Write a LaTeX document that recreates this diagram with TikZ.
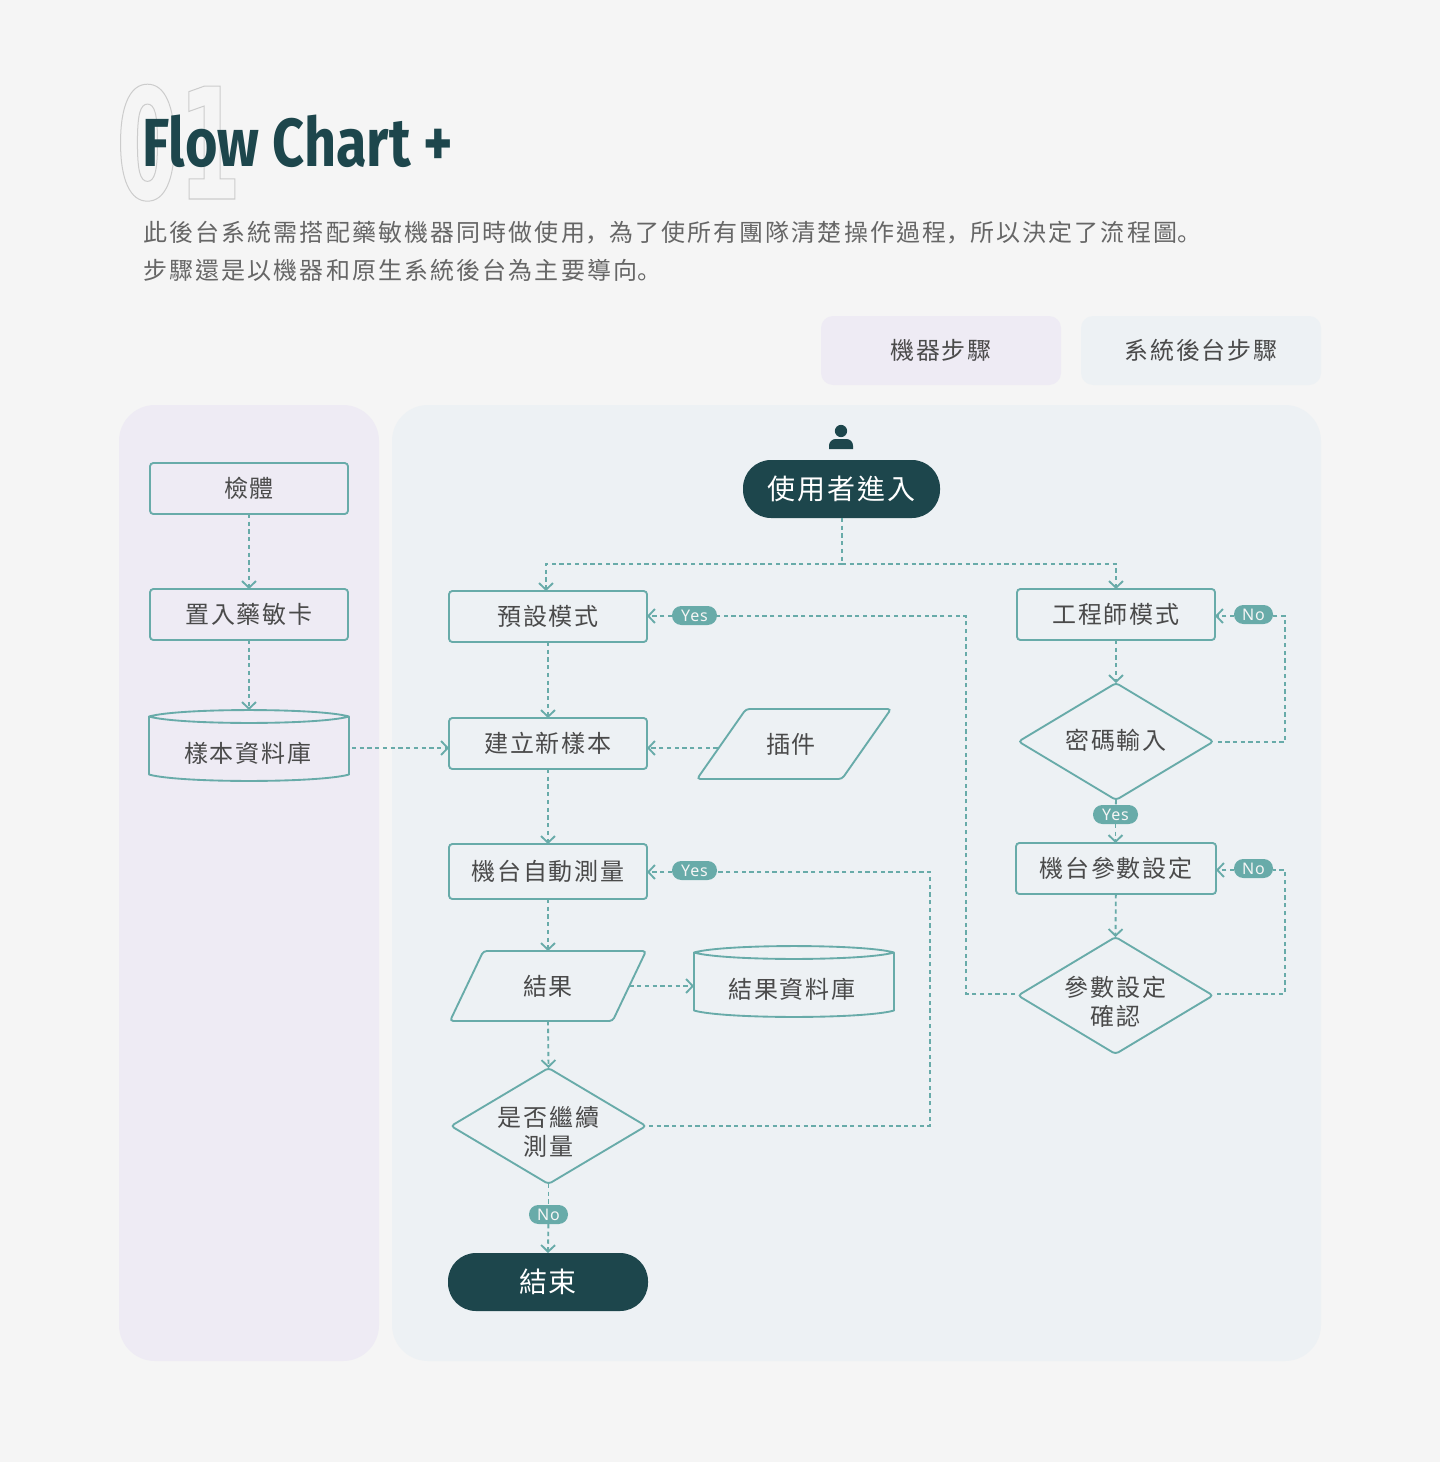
\documentclass[tikz,border=0pt]{standalone}
\usepackage{fontspec}
\usetikzlibrary{arrows.meta,shapes.geometric,calc}
\setmainfont{Noto Sans CJK TC}
\newfontfamily\lblfont[LetterSpace=7]{Noto Sans CJK TC}
\newfontfamily\descfont[LetterSpace=8.8]{Noto Sans CJK TC}
\newfontfamily\punctfont[LetterSpace=8.8]{Noto Sans CJK SC}
\newfontfamily\bigfont[LetterSpace=7]{Noto Sans CJK TC}
\newfontfamily\pillfont[LetterSpace=5]{Noto Sans}
\newfontfamily\titlefont[FakeStretch=0.82]{Fira Sans}[BoldFont=* Bold]
\newfontfamily\numfont[FakeStretch=0.58]{DejaVu Sans Bold}
\definecolor{pagebg}{HTML}{F5F5F5}
\definecolor{purplebg}{HTML}{EEEBF4}
\definecolor{bluebg}{HTML}{EDF1F4}
\definecolor{tealc}{HTML}{68ABA9}
\definecolor{darkc}{HTML}{1D464C}
\definecolor{textc}{HTML}{4A4A4A}
\definecolor{descc}{HTML}{666666}
\tikzset{
  dims/.style 2 args={minimum width=#1*0.75pt,minimum height=#2*0.75pt},
  base/.style={inner sep=0pt,outer sep=0pt,text=textc,font=\fontsize{18}{21.75}\lblfont,align=center},
  stepbox/.style={base,rectangle,draw=tealc,line width=1.4pt,rounded corners=2.5pt},
  decide/.style={base,diamond,aspect=1.67,draw=tealc,line width=1.4pt,rounded corners=2.5pt},
  slant/.style={base,trapezium,trapezium stretches body,draw=tealc,line width=1.4pt,rounded corners=2.5pt},
  dbbox/.style={base},
  dbline/.style={draw=tealc,line width=1.4pt,line join=round},
  terminal/.style={inner sep=0pt,outer sep=0pt,rounded corners=21pt,fill=darkc,text=white,font=\fontsize{21}{25}\bigfont},
  pill/.style={inner sep=0pt,outer sep=0pt,rounded corners=7pt,fill=tealc,text=pagebg,font=\fontsize{12}{14}\pillfont},
  flow/.style={draw=tealc,line width=1.4pt,dash pattern=on 3.2pt off 2.6pt,-{Straight Barb[length=5pt,width=10.5pt,line width=1.4pt]}},
  flowline/.style={draw=tealc,line width=1.4pt,dash pattern=on 3.2pt off 2.6pt},
  legend/.style={base,rounded corners=9pt},
  panel/.style={rounded corners=27pt},
}
\newcommand{\cyl}[1]{%
  \draw[dbline] (#1.north west) ++(0,6.5) .. controls +(30,-8.6) and +(-30,-8.6) .. ++(200,0)
     .. controls +(-30,8.6) and +(30,8.6) .. ++(-200,0) -- ++(0,58)
     .. controls +(30,8.6) and +(-30,8.6) .. ++(200,0) -- ++(0,-58);}
\newcommand{\slantbody}{\rule{0pt}{52.5pt}}
\begin{document}
\begin{tikzpicture}[x=0.75pt,y=-0.75pt]
\fill[pagebg,use as bounding box] (0,0) rectangle (1440,1462);
% panels
\node[panel,fill=purplebg,dims={260}{956},inner sep=0pt,outer sep=0pt] (lane1) at (249,883) {};
\node[panel,fill=bluebg,dims={929}{956},inner sep=0pt,outer sep=0pt] (lane2) at (856.5,883) {};
% legend
\node[legend,fill=purplebg,dims={240}{69}] (leg1) at (941,350.5) {機器步驟};
\node[legend,fill=bluebg,dims={240}{69}] (leg2) at (1201,350.5) {系統後台步驟};
% title
\node[anchor=base west,inner sep=0pt,text=black] (num) at (116,199) {\fontsize{116}{125}\numfont\special{pdf:code 1 Tr 0.75 w 0.8 0.8 0.8 RG}01\special{pdf:code 0 Tr}};
\node[anchor=base west,inner sep=0pt,text=darkc] (title) at (142,167) {\fontsize{51}{60}\titlefont\bfseries Flow Chart +};
\node[anchor=west,inner sep=0pt,text=descc] (desc1) at (143,233) {\fontsize{18}{22}\descfont 此後台系統需搭配藥敏機器同時做使用{\punctfont ，}為了使所有團隊清楚操作過程{\punctfont ，}所以決定了流程圖{\punctfont 。}};
\node[anchor=west,inner sep=0pt,text=descc] (desc2) at (143,270) {\fontsize{18}{22}\descfont 步驟還是以機器和原生系統後台為主要導向{\punctfont 。}};
% person icon
\fill[darkc] (841,431) circle (4.6pt);
\fill[darkc] (829,449) [rounded corners=5pt] -- (829,439) -- (853,439) [sharp corners] -- (853,449) -- cycle;
% left lane
\node[stepbox,dims={198}{51}] (body) at (249,488.5) {檢體};
\node[stepbox,dims={198}{51}] (card) at (249,614.5) {置入藥敏卡};
\node[dbbox,dims={200}{72},label={[base,yshift=-5.25pt,xshift=-1pt]center:樣本資料庫}] (sampledb) at (249,746) {};
\cyl{sampledb}
% main lane
\node[terminal,dims={197}{58}] (user) at (841.5,489) {使用者進入};
\node[stepbox,dims={198}{51}] (preset) at (548,616.5) {預設模式};
\node[stepbox,dims={198}{51}] (newsample) at (548,743.5) {建立新樣本};
\node[slant,trapezium left angle=55,trapezium right angle=125,dims={194}{70},label={[base,xshift=-2.25pt]center:插件}] (plugin) at (794,744) {\slantbody};
\node[stepbox,dims={198}{55}] (measure) at (548,871.5) {機台自動測量};
\node[slant,trapezium left angle=64.5,trapezium right angle=115.5,dims={196}{70},label={[base]center:結果}] (result) at (548,986) {\slantbody};
\node[dbbox,dims={200}{72},label={[base,yshift=-5.25pt,xshift=-1.5pt]center:結果資料庫}] (resultdb) at (794,982) {};
\cyl{resultdb}
\node[decide,dims={195}{116},label={[base,yshift=-4.4pt]center:{是否繼續\\測量}}] (cont) at (548.5,1126) {};
\node[terminal,dims={200}{58}] (finish) at (548,1282) {結束};
\node[stepbox,dims={198}{51}] (eng) at (1116,614.5) {工程師模式};
\node[decide,dims={195}{117},label={[base,yshift=0.6pt]center:密碼輸入}] (pw) at (1116,741.5) {};
\node[stepbox,dims={200}{51}] (param) at (1116,868.5) {機台參數設定};
\node[decide,dims={195}{117},label={[base,yshift=-4.4pt]center:{參數設定\\確認}}] (confirm) at (1115.5,995.5) {};
% pills
\node[pill,dims={45}{19}] (y1) at (694.5,615.5) {Yes};
\node[pill,dims={45}{19}] (y2) at (694.5,870.5) {Yes};
\node[pill,dims={45}{19}] (y3) at (1115.5,814.5) {Yes};
\node[pill,dims={39}{19}] (n1) at (1253.5,614.5) {No};
\node[pill,dims={39}{19}] (n2) at (1253.5,868.5) {No};
\node[pill,dims={39}{19}] (n3) at (548.5,1214.5) {No};
% waypoints
\coordinate (fork) at (842,564);
\coordinate (c1) at (966,616);
\coordinate (c1b) at (966,994);
\coordinate (c2) at (930,872);
\coordinate (c2b) at (930,1126);
\coordinate (c3) at (1285,616);
\coordinate (c3b) at (1285,742);
\coordinate (c4) at (1285,870);
\coordinate (c4b) at (1285,994);
% connectors
\draw[flow] (body) -- (card);
\draw[flow] (card) -- (sampledb.north);
\draw[flow] ($(sampledb.east)+(3,2)$) -- (newsample.west |- 0,748);
\draw[flowline] (user.south -| fork) -- (fork);
\draw[flow] (fork) -| ($(preset.north)+(-2,0)$);
\draw[flow] (fork) -| (eng.north);
\draw[flow] (preset) -- (newsample);
\draw[flow] (newsample) -- (measure);
\draw[flow] (measure) -- (result.north);
\draw[flow] ($(plugin.west |- 0,748)+(-4,0)$) -- (newsample.east |- 0,748);
\draw[flow] (result.east) -- (resultdb.west |- result.east);
\draw[flow] (result.south) -- (cont.north);
\draw[flowline] (cont.south) -- (n3);
\draw[flow] (n3) -- (finish.north);
\draw[flowline] ($(cont.east)+(3,0)$) -- (c2b) -- (c2) -- (y2.east |- c2);
\draw[flow] (y2.west |- c2) -- (measure.east |- c2);
\draw[flowline] ($(confirm.west)+(-3,-1.5)$) -- (c1b) -- (c1) -- (y1.east |- c1);
\draw[flow] (y1.west |- c1) -- (preset.east |- c1);
\draw[flow] (eng) -- (pw.north);
\draw[flowline] (pw.south) -- (y3);
\draw[flow] (y3) -- (param.north -| y3);
\draw[flow] (param) -- (confirm.north);
\draw[flowline] ($(pw.east)+(4,0.5)$) -- (c3b) -- (c3) -- (n1.east |- c3);
\draw[flow] (n1.west |- c3) -- (eng.east |- c3);
\draw[flowline] ($(confirm.east)+(4,-1.5)$) -- (c4b) -- (c4) -- (n2.east |- c4);
\draw[flow] (n2.west |- c4) -- (param.east |- c4);
\end{tikzpicture}
\end{document}
